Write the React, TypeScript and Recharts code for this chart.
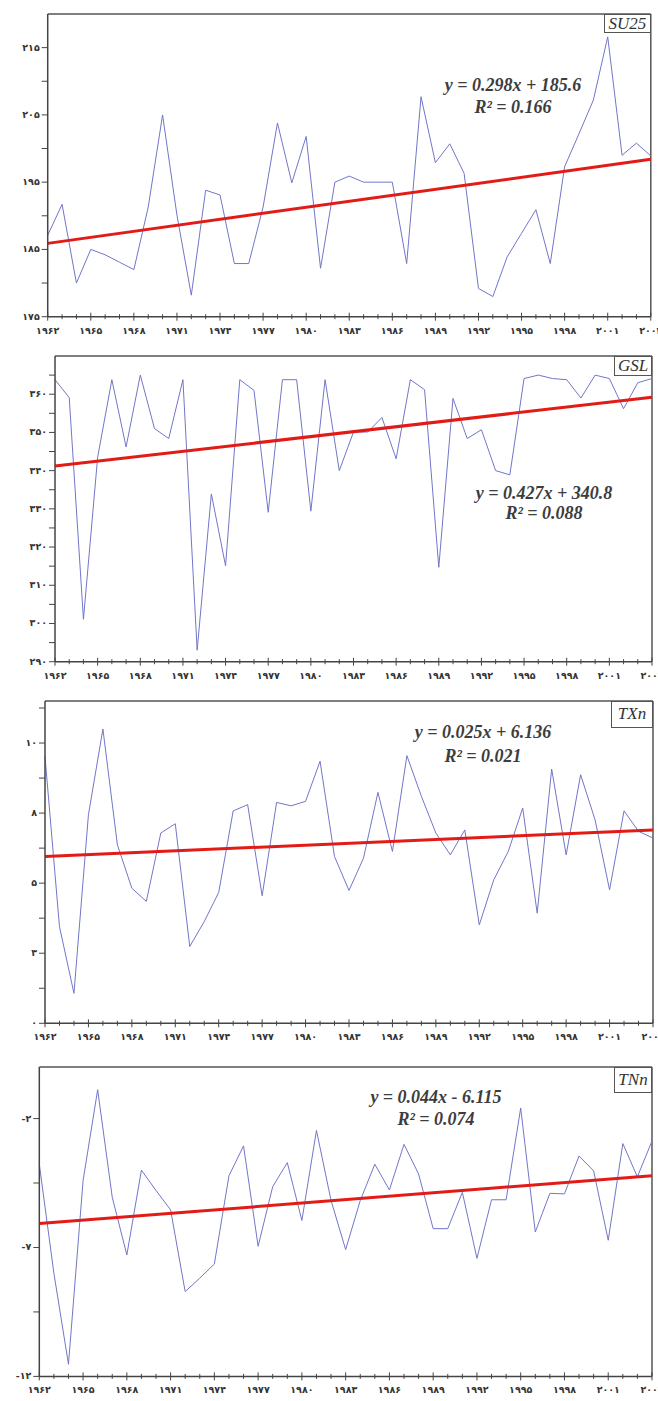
import React from 'react';
import { LineChart, Line, XAxis, YAxis, ReferenceLine } from 'recharts';

// years 1962..2004
const years = [
  1962, 1963, 1964, 1965, 1966, 1967, 1968, 1969, 1970, 1971, 1972, 1973, 1974, 1975, 1976,
  1977, 1978, 1979, 1980, 1981, 1982, 1983, 1984, 1985, 1986, 1987, 1988, 1989, 1990, 1991,
  1992, 1993, 1994, 1995, 1996, 1997, 1998, 1999, 2000, 2001, 2002, 2003, 2004,
];

const su25 = [
  187.1, 191.7, 180.0, 185.0, 184.2, 183.1, 182.0, 191.3, 205.0, 190.1, 178.2, 193.8, 193.1,
  182.9, 182.9, 191.3, 203.8, 194.9, 201.8, 182.2, 195.0, 195.9, 195.0, 195.0, 195.0, 182.9,
  207.7, 197.9, 200.7, 196.3, 179.2, 178.0, 183.9, 187.4, 190.9, 182.9, 197.3, 202.2, 207.2,
  216.6, 199.0, 200.8, 198.9,
];
const gsl = [
  363.8, 359.1, 301.1, 343.5, 363.8, 346.2, 365.0, 351.0, 348.4, 363.8, 293.0, 333.9, 315.1,
  363.8, 361.0, 329.1, 363.8, 363.8, 329.4, 363.8, 340.0, 350.1, 350.1, 353.9, 343.1, 363.8,
  361.2, 314.7, 358.9, 348.4, 350.7, 340.0, 338.9, 364.1, 365.0, 364.1, 363.8, 359.0, 365.0,
  364.1, 356.2, 363.0, 364.1,
];
const txn = [
  9.52, 3.45, 1.07, 7.44, 10.5, 6.37, 4.82, 4.35, 6.79, 7.12, 2.74, 3.63, 4.67, 7.58, 7.8, 4.55,
  7.88, 7.76, 7.92, 9.35, 5.95, 4.74, 5.89, 8.24, 6.13, 9.55, 8.1, 6.79, 6.01, 6.9, 3.51, 5.12,
  6.13, 7.68, 3.93, 9.07, 6.01, 8.87, 7.26, 4.76, 7.58, 6.85, 6.61,
];
const tnn = [
  -3.77, -8.0, -11.53, -4.41, -0.88, -5.05, -7.29, -4.0, -4.79, -5.54, -8.71, -8.19, -7.64,
  -4.22, -3.06, -6.95, -4.64, -3.71, -5.95, -2.46, -5.18, -7.08, -5.18, -3.77, -4.77, -3.0,
  -4.15, -6.27, -6.27, -4.86, -7.42, -5.15, -5.15, -1.59, -6.4, -4.9, -4.92, -3.45, -4.03,
  -6.72, -2.97, -4.26, -2.87,
];

// trend line end values (first year, last year)
const su25Trend = [185.9, 198.4];
const gslTrend = [341.2, 359.2];
const txnTrend = [5.95, 6.9];
const tnnTrend = [-6.07, -4.22];

// y ticks (all) and the labelled ones
const su25Ticks = [175, 180, 185, 190, 195, 200, 205, 210, 215];
const su25Major = [175, 185, 195, 205, 215];
const gslTicks = [290, 295, 300, 305, 310, 315, 320, 325, 330, 335, 340, 345, 350, 355, 360, 365];
const gslMajor = [290, 300, 310, 320, 330, 340, 350, 360];
const txnTicks = [0, 1.25, 2.5, 3.75, 5, 6.25, 7.5, 8.75, 10, 11.25];
const txnMajor = [0, 2.5, 5, 7.5, 10];
const tnnTicks = [-12, -9.5, -7, -4.5, -2];
const tnnMajor = [-12, -7, -2];

const names = ['SU25', 'GSL', 'TXn', 'TNn'];
const equations = ['y = 0.298x + 185.6', 'y = 0.427x + 340.8', 'y = 0.025x + 6.136', 'y = 0.044x - 6.115'];
const r2Texts = ['R² = 0.166', 'R² = 0.088', 'R² = 0.021', 'R² = 0.074'];

const FA = '۰۱۲۳۴۵۶۷۸۹';
const toFa = (s: string) => s.replace(/[0-9]/g, (d) => FA[+d]);

const BLUE = '#7075c8';
const RED = '#e31b17';
const AXIS = '#444';

const layout = [
  { top: 14, bottom: 316.7, left: 47.7, right: 650.8, domain: [175, 220], eqX: 513, eqY: 85, r2Y: 107, boxL: 604, boxB: 33 },
  { top: 356, bottom: 661.7, left: 55, right: 652, domain: [290, 370], eqX: 544, eqY: 493, r2Y: 513, boxL: 614, boxB: 376 },
  { top: 700.7, bottom: 1023, left: 45, right: 653, domain: [0, 11.5], eqX: 483, eqY: 732, r2Y: 756, boxL: 611, boxB: 728 },
  { top: 1067.3, bottom: 1376.7, left: 39.3, right: 652, domain: [-12, 0], eqX: 436, eqY: 1097, r2Y: 1119, boxL: 614, boxB: 1093 },
];

const series = [su25, gsl, txn, tnn];
const trends = [su25Trend, gslTrend, txnTrend, tnnTrend];
const yTicks = [su25Ticks, gslTicks, txnTicks, tnnTicks];
const yMajors = [su25Major, gslMajor, txnMajor, tnnMajor];

function XTick(props: any) {
  const { x, y, payload } = props;
  const major = (payload.value - years[0]) % 3 === 0;
  const h = major ? 4 : 2.5;
  return (
    <g>
      <line x1={x} x2={x} y1={y - h} y2={y + h} stroke={AXIS} strokeWidth={1} />
      {major && (
        <text x={x} y={y + 17} textAnchor="middle" fontSize={9.5} fontWeight="bold" fontFamily="DejaVu Sans" fill="#333">
          {toFa(String(payload.value))}
        </text>
      )}
    </g>
  );
}

function makeYTick(major: number[]) {
  return (props: any) => {
    const { x, y, payload } = props;
    const isMajor = major.includes(payload.value);
    return (
      <g>
        <line x1={x - 6} x2={x} y1={y} y2={y} stroke={AXIS} strokeWidth={1} />
        {isMajor && (
          <text x={x - 8} y={y + 3} textAnchor="end" fontSize={9.5} fontWeight="bold" fontFamily="DejaVu Sans" fill="#333">
            {toFa(String(Math.round(payload.value)))}
          </text>
        )}
      </g>
    );
  };
}

function Panel({ idx }: { idx: number }) {
  const l = layout[idx];
  const values = series[idx];
  const trend = trends[idx];
  const rows = years.map((year, i) => ({
    year,
    v: values[i],
    t: i === 0 ? trend[0] : i === years.length - 1 ? trend[1] : null,
  }));
  const padTop = 10;
  const axisH = 30;
  const h = l.bottom - l.top + padTop + axisH;
  return (
    <div style={{ position: 'absolute', left: 0, top: l.top - padTop }}>
      <LineChart
        width={658}
        height={h}
        data={rows}
        margin={{ top: padTop, right: 658 - l.right, bottom: 0, left: 0 }}
      >
        <XAxis
          dataKey="year"
          type="number"
          domain={[years[0], years[years.length - 1]]}
          ticks={years}
          interval={0}
          height={axisH}
          tickSize={0}
          tickMargin={0}
          tickLine={false}
          tick={XTick}
          axisLine={{ stroke: AXIS, strokeWidth: 1.5 }}
        />
        <YAxis
          type="number"
          domain={l.domain}
          allowDataOverflow
          ticks={yTicks[idx]}
          interval={0}
          width={l.left}
          tickSize={0}
          tickMargin={0}
          tickLine={false}
          tick={makeYTick(yMajors[idx])}
          axisLine={{ stroke: AXIS, strokeWidth: 1.5 }}
        />
        <ReferenceLine y={l.domain[1]} stroke="#555" strokeWidth={1.5} />
        <ReferenceLine x={years[years.length - 1]} stroke="#555" strokeWidth={1.5} />
        <Line type="linear" dataKey="v" stroke={BLUE} strokeWidth={1} dot={false} isAnimationActive={false} />
        <Line
          type="linear"
          dataKey="t"
          stroke={RED}
          strokeWidth={3}
          dot={false}
          connectNulls
          isAnimationActive={false}
        />
      </LineChart>
    </div>
  );
}

const eqStyle: React.CSSProperties = {
  position: 'absolute',
  transform: 'translateX(-50%)',
  whiteSpace: 'nowrap',
  fontFamily: '"Liberation Serif", serif',
  fontStyle: 'italic',
  fontWeight: 'bold',
  fontSize: 18,
  lineHeight: '20px',
  color: '#3d3d3d',
};

export default function App() {
  return (
    <div style={{ position: 'relative', width: 658, height: 1401, background: '#fff', overflow: 'hidden' }}>
      <style>{'body{margin:0}'}</style>
      {layout.map((l, i) => (
        <React.Fragment key={names[i]}>
          <Panel idx={i} />
          <div style={{ ...eqStyle, left: l.eqX, top: l.eqY - 10 }}>{equations[i]}</div>
          <div style={{ ...eqStyle, left: l.eqX, top: l.r2Y - 10 }}>{r2Texts[i]}</div>
          <div
            style={{
              position: 'absolute',
              left: l.boxL,
              top: l.top,
              width: l.right - l.boxL,
              height: l.boxB - l.top,
              boxSizing: 'border-box',
              border: '1px solid #555',
              background: '#fff',
              fontFamily: '"Liberation Serif", serif',
              fontStyle: 'italic',
              fontSize: 17,
              color: '#333',
              display: 'flex',
              alignItems: 'center',
              justifyContent: 'center',
            }}
          >
            {names[i]}
          </div>
        </React.Fragment>
      ))}
    </div>
  );
}
